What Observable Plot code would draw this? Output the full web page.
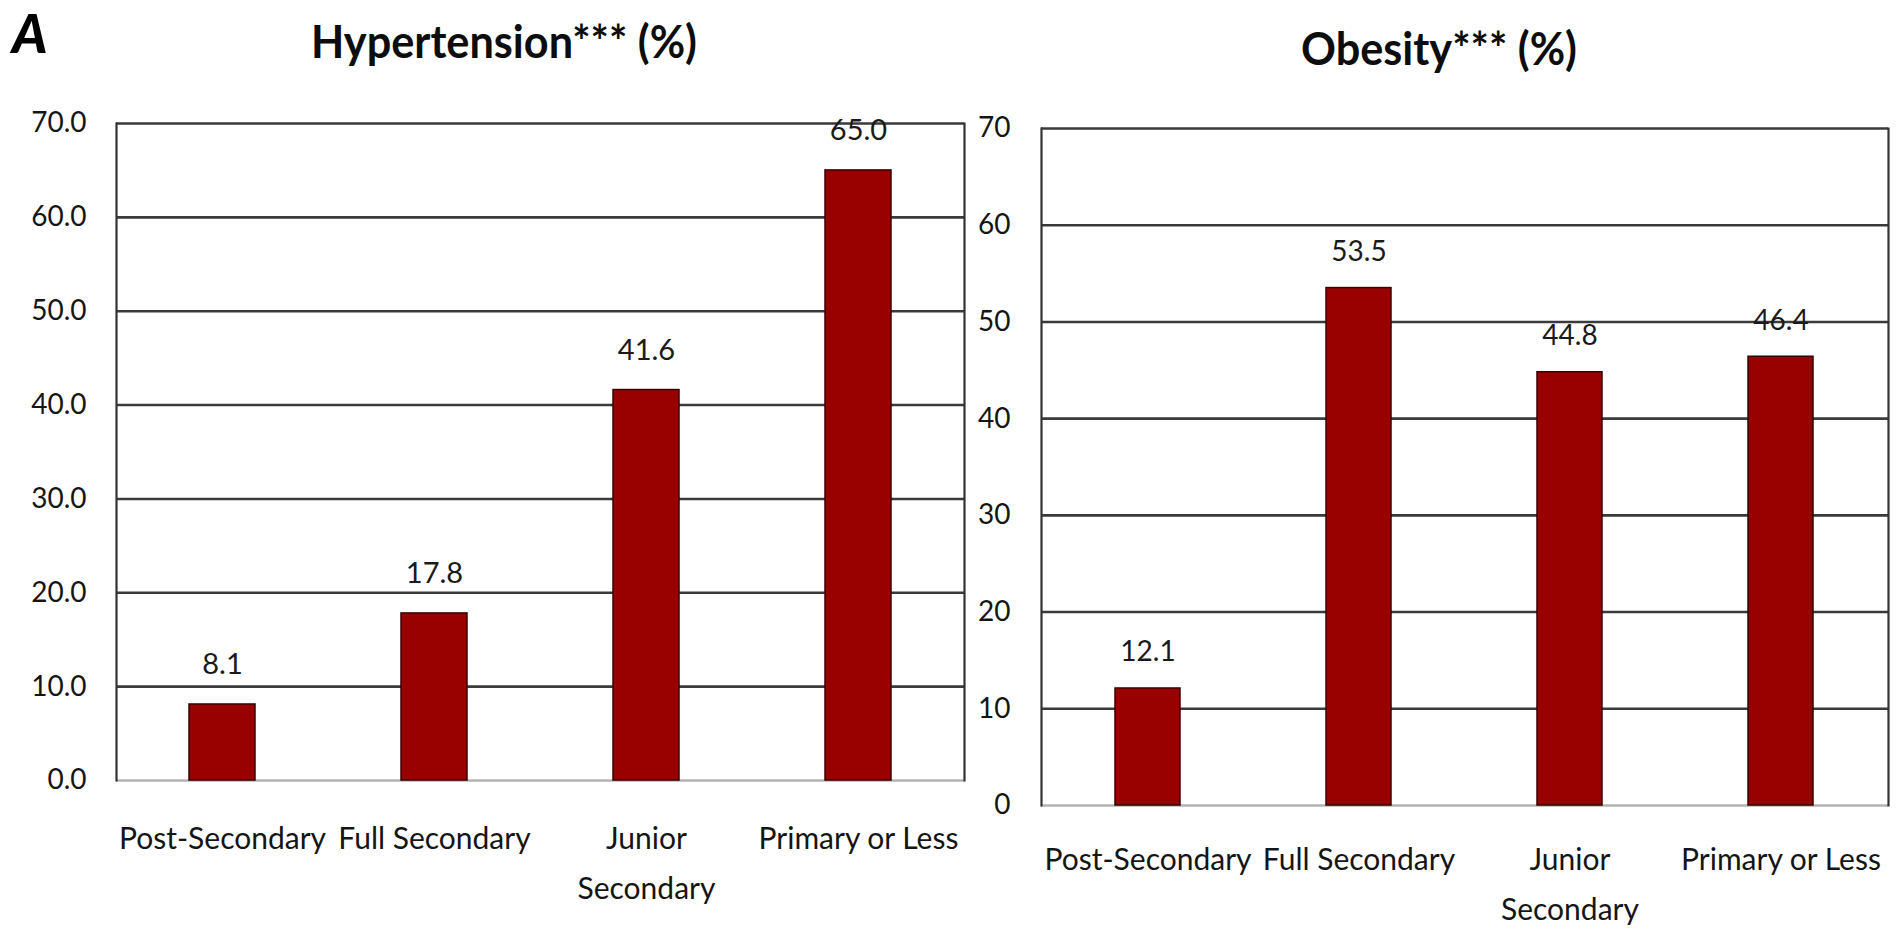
<!DOCTYPE html>
<html>
<head>
<meta charset="utf-8">
<script src="https://cdn.jsdelivr.net/npm/d3@7"></script>
<script src="https://cdn.jsdelivr.net/npm/@observablehq/plot@0.6"></script>
<style>
  html, body { margin: 0; padding: 0; background: #ffffff; }
  #page { position: relative; width: 1899px; height: 937px; overflow: hidden; font-family: Lato, "Open Sans", sans-serif; color: #111; }
  .title { position: absolute; font-weight: bold; white-space: nowrap; line-height: 1; transform: translateX(-50%) scaleX(0.94); color: #0d0d0d; }
  .panel { position: absolute; top: 0; }
  #panelA { position: absolute; left: 12px; top: 6px; font-weight: 900; font-style: italic; font-size: 54px; line-height: 1; color: #000; }
</style>
</head>
<body>
<div id="page">
  <div id="panelA">A</div>
  <div class="title" id="t1" style="left:504px; top:18px; font-size:46px;">Hypertension*** (%)</div>
  <div class="title" id="t2" style="left:1439px; top:25px; font-size:46px;">Obesity*** (%)</div>
  <div class="panel" id="left" style="left:0px;"></div>
  <div class="panel" id="right" style="left:970px;"></div>
</div>
<script>
// ---- data ----
const categories = ["Post-Secondary", "Full Secondary", "Junior Secondary", "Primary or Less"];
const tickLabels = ["Post-Secondary", "Full Secondary", "Junior\nSecondary", "Primary or Less"];
const hypertension = [8.1, 17.8, 41.6, 65.0];
const obesity = [12.1, 53.5, 44.8, 46.4];
const yTicks = [0, 10, 20, 30, 40, 50, 60, 70];

const labelOf = new Map(categories.map((c, i) => [c, tickLabels[i]]));
const barFill = "#990000";
const barStroke = "#3a0000";
const gridColor = "#3a3a3a";

function panel({values, width, height, marginLeft, marginRight, marginTop, marginBottom,
                yFormat, yFontSize, yPad, valueFontSize, valueDy, xFontSize, xDy}) {
  const data = categories.map((c, i) => ({cat: c, value: values[i]}));
  return Plot.plot({
    width, height, marginLeft, marginRight, marginTop, marginBottom,
    style: {fontFamily: "Lato, 'Open Sans', sans-serif", color: "#151515", background: "transparent", overflow: "visible"},
    x: {type: "band", domain: categories, paddingInner: 0.69, paddingOuter: 0.345},
    y: {domain: [0, 70]},
    marks: [
      Plot.ruleY(yTicks.filter(d => d > 0), {stroke: gridColor, strokeWidth: 2.6}),
      Plot.ruleY([0], {stroke: "#b3b3b3", strokeWidth: 2.6}),
      Plot.frame({anchor: "left", stroke: "#333", strokeWidth: 2.2}),
      Plot.frame({anchor: "right", stroke: "#333", strokeWidth: 2.2}),
      Plot.barY(data, {x: "cat", y: "value", fill: barFill, stroke: barStroke, strokeWidth: 1.5}),
      Plot.text(data, {x: "cat", y: "value", text: d => d.value.toFixed(1), dy: valueDy, lineAnchor: "bottom", fontSize: valueFontSize, fill: "#1a1a1a"}),
      Plot.axisY(yTicks, {tickSize: 0, tickPadding: yPad, tickFormat: yFormat, fontSize: yFontSize, label: null}),
      Plot.axisX({ticks: [], tickSize: 0, label: null}),
      Plot.text(categories, {x: d => d, text: d => labelOf.get(d), frameAnchor: "bottom", lineAnchor: "top",
                             dy: xDy, lineHeight: 50 / xFontSize, fontSize: xFontSize, fill: "#151515"})
    ]
  });
}

document.getElementById("left").appendChild(panel({
  values: hypertension, width: 975, height: 937,
  marginLeft: 116, marginRight: 11, marginTop: 123, marginBottom: 157,
  yFormat: d3.format(".1f"), yFontSize: 28, yPad: 30,
  valueFontSize: 29, valueDy: -30,
  xFontSize: 30, xDy: 33
}));

document.getElementById("right").appendChild(panel({
  values: obesity, width: 929, height: 937,
  marginLeft: 71, marginRight: 11, marginTop: 128, marginBottom: 132,
  yFormat: d3.format("d"), yFontSize: 28, yPad: 31,
  valueFontSize: 28, valueDy: -27,
  xFontSize: 30, xDy: 29
}));
</script>
</body>
</html>
